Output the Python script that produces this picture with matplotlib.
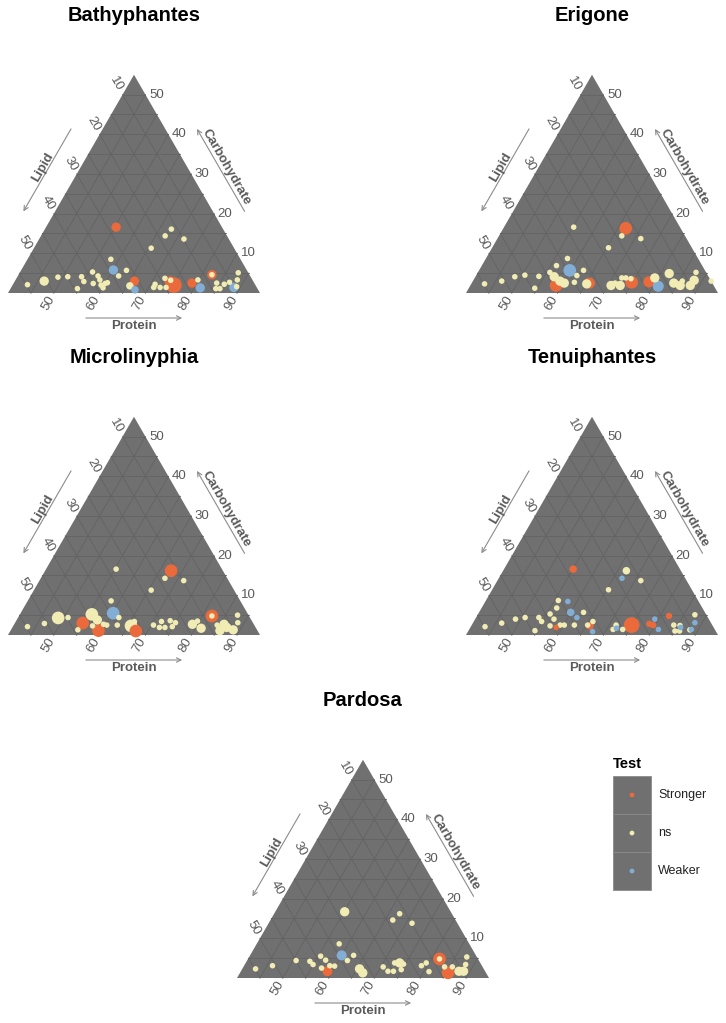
import numpy as np
import matplotlib
matplotlib.use("Agg")
import matplotlib.pyplot as plt
from matplotlib.patches import Polygon, Rectangle

plt.rcParams['font.family'] = ['Liberation Sans', 'DejaVu Sans']

# ---------------- data (Protein %, Carbohydrate %, test, point size) ----------------
bathy_protein = [55.3, 67.6, 67.1, 71.6, 65.6, 58.2, 60.1, 63.0, 62.0, 43.2, 46.4, 48.9, 51.0, 54.6, 54.0,
                 55.1, 55.8, 57.4, 57.5, 58.4, 59.3, 60.0, 60.1, 60.4, 66.1, 65.7, 67.3, 71.0, 71.1, 72.5,
                 73.8, 72.4, 73.9, 75.2, 74.0, 78.9, 79.8, 81.3, 82.2, 82.2, 84.3, 85.7, 84.8, 86.1, 87.0,
                 88.6, 87.7, 88.4, 89.1]
bathy_carb = [16.6, 16.1, 14.4, 13.6, 11.3, 8.5, 5.8, 5.7, 4.3, 2.1, 3.0, 4.0, 4.1, 1.1, 4.1,
              2.9, 5.3, 2.4, 4.3, 3.3, 2.0, 2.4, 1.3, 2.6, 3.0, 1.8, 0.8, 2.2, 1.4, 1.4,
              1.4, 3.7, 3.2, 2.0, 2.8, 2.5, 3.3, 1.3, 4.6, 4.6, 2.5, 1.1, 1.1, 2.2, 2.7,
              1.4, 5.1, 3.3, 1.6]
bathy_test = ['Stronger', 'ns', 'ns', 'ns', 'ns', 'ns', 'Weaker', 'ns', 'ns', 'ns', 'ns', 'ns', 'ns', 'ns', 'ns',
              'ns', 'ns', 'ns', 'ns', 'ns', 'ns', 'ns', 'ns', 'ns', 'Stronger', 'ns', 'Weaker', 'ns', 'ns', 'ns',
              'ns', 'ns', 'ns', 'Stronger', 'Stronger', 'Stronger', 'ns', 'Weaker', 'Stronger', 'ns', 'ns', 'ns', 'ns', 'ns', 'ns',
              'Weaker', 'ns', 'ns', 'ns']
bathy_size = [2, 1, 1, 1, 1, 1, 2, 1, 1, 1, 2, 1, 1, 1, 1,
              1, 1, 1, 1, 1, 1, 1, 1, 1, 2, 1.5, 1.5, 1, 1, 1,
              1, 1, 1, 4, 2.5, 2, 1, 2, 2, 1, 1, 1, 1, 1, 1,
              2, 1, 1, 1]

erig_protein = [66.7, 66.8, 55.2, 71.3, 65.4, 57.8, 56.3, 59.8, 62.0, 62.8, 55.7, 57.2, 59.0, 60.2, 58.7,
                54.4, 53.8, 50.6, 48.6, 46.3, 42.9, 62.3, 65.7, 65.2, 70.7, 71.3, 72.7, 72.1, 73.0, 74.8,
                74.2, 78.5, 79.3, 81.1, 81.9, 84.1, 85.8, 85.7, 88.0, 88.2, 87.6, 92.0]
erig_carb = [16.3, 14.4, 16.6, 13.7, 11.4, 8.7, 6.9, 5.7, 4.4, 5.7, 5.2, 4.1, 3.0, 2.5, 1.9,
             1.2, 4.2, 4.5, 4.1, 3.0, 2.3, 2.7, 2.5, 2.3, 1.9, 2.5, 1.9, 3.8, 3.8, 2.7,
             3.6, 2.8, 3.8, 1.7, 4.9, 2.5, 1.9, 3.0, 1.9, 3.2, 5.2, 3.0]
erig_test = ['Stronger', 'ns', 'ns', 'ns', 'ns', 'ns', 'ns', 'Weaker', 'ns', 'ns', 'ns', 'ns', 'ns', 'ns', 'Stronger',
             'ns', 'ns', 'ns', 'ns', 'ns', 'ns', 'ns', 'Stronger', 'ns', 'ns', 'ns', 'ns', 'ns', 'ns', 'Stronger',
             'ns', 'Stronger', 'ns', 'Weaker', 'ns', 'ns', 'ns', 'ns', 'ns', 'ns', 'ns', 'ns']
erig_size = [3, 1, 1, 1, 1, 1, 1, 3, 1, 1, 1, 2, 2, 2, 3,
             1, 1, 1, 1, 1, 1, 1, 2.5, 2, 2, 1, 2, 1, 1, 3,
             1, 2.5, 2, 2.5, 2, 2, 2, 1, 2, 2, 1, 1]

micro_protein = [67.5, 67.1, 71.5, 55.3, 65.6, 58.2, 60.2, 62.0, 55.7, 57.6, 59.5, 60.3, 57.3, 54.8, 59.2,
                 54.6, 48.8, 50.9, 46.5, 43.2, 62.6, 65.7, 65.9, 67.4, 70.5, 72.1, 73.3, 74.8, 71.8, 73.6,
                 75.0, 78.9, 79.6, 81.3, 82.1, 82.1, 84.4, 85.8, 85.7, 88.5, 88.6, 87.6, 86.8]
micro_carb = [16.2, 14.3, 13.7, 16.6, 11.3, 8.6, 5.5, 4.4, 5.2, 3.8, 2.7, 2.5, 2.3, 3.0, 1.1,
              1.3, 4.3, 4.4, 2.9, 2.1, 2.5, 2.3, 3.4, 1.0, 2.5, 1.9, 1.9, 2.1, 3.4, 3.6,
              3.1, 2.7, 3.5, 1.7, 4.8, 4.8, 2.5, 2.7, 1.1, 1.3, 3.1, 5.0, 1.9]
micro_test = ['Stronger', 'ns', 'ns', 'ns', 'ns', 'ns', 'Weaker', 'ns', 'ns', 'ns', 'ns', 'ns', 'ns', 'Stronger', 'Stronger',
              'ns', 'ns', 'ns', 'ns', 'ns', 'ns', 'ns', 'ns', 'Stronger', 'ns', 'ns', 'ns', 'ns', 'ns', 'ns',
              'ns', 'ns', 'ns', 'ns', 'Stronger', 'ns', 'ns', 'ns', 'ns', 'ns', 'ns', 'ns', 'ns']
micro_size = [3, 1, 1, 1, 1, 1, 3, 1, 3, 2, 1, 1, 1, 3, 3,
              1, 3, 1, 1, 1, 1, 3, 1, 3, 1, 1, 1, 1, 1, 1,
              1, 2, 1, 2, 3, 1, 1, 2, 2, 2, 1, 1, 2]

tenui_protein = [55.1, 66.9, 66.9, 71.3, 65.4, 55.8, 58.0, 56.4, 60.0, 62.0, 62.8, 55.7, 57.2, 59.3, 60.2,
                 58.7, 57.2, 53.7, 54.8, 54.5, 50.7, 48.8, 46.3, 43.1, 62.4, 65.9, 65.3, 66.0, 67.2, 71.5,
                 71.4, 72.0, 73.5, 74.9, 79.2, 78.6, 79.6, 81.3, 81.9, 84.1, 85.5, 85.1, 86.1, 88.2, 87.4,
                 85.9, 88.4, 88.5]
tenui_carb = [16.6, 16.2, 14.3, 13.7, 11.4, 8.7, 8.45, 6.8, 5.7, 4.4, 5.7, 5.3, 4.0, 2.5, 2.5,
              1.9, 2.3, 4.4, 3.4, 1.1, 4.4, 4.0, 3.0, 2.1, 2.5, 2.3, 2.5, 3.4, 0.85, 2.5,
              1.4, 1.7, 1.4, 2.5, 4.0, 2.8, 2.5, 1.4, 4.8, 2.5, 2.4, 1.0, 1.0, 1.3, 5.1,
              1.9, 3.1, 1.4]
tenui_test = ['Stronger', 'ns', 'Weaker', 'ns', 'ns', 'ns', 'Weaker', 'ns', 'Weaker', 'Weaker', 'ns', 'ns', 'ns', 'ns', 'ns',
              'Stronger', 'ns', 'ns', 'ns', 'ns', 'ns', 'ns', 'ns', 'ns', 'ns', 'Stronger', 'ns', 'ns', 'Weaker', 'ns',
              'ns', 'Weaker', 'ns', 'Stronger', 'Weaker', 'Stronger', 'Stronger', 'Weaker', 'Stronger', 'ns', 'ns', 'ns', 'ns', 'ns', 'ns',
              'Weaker', 'Weaker', 'Weaker']
tenui_size = [1.5, 1.5, 1, 1, 1, 1, 1, 1, 1.5, 1, 1, 1, 1, 1, 1,
              1, 1, 1, 1, 1, 1, 1, 1, 1, 1, 1.5, 1, 1, 1, 1,
              1, 1, 1, 4, 1, 1.2, 1.2, 1, 1.2, 1, 1, 1, 1, 1, 1,
              1, 1, 1]

pard_protein = [55.15, 67.4, 66.7, 71.3, 58.0, 60.0, 62.6, 61.9, 55.5, 57.1, 58.7, 59.8, 57.2, 58.9, 53.8,
                54.9, 50.7, 46.2, 42.9, 65.6, 66.8, 70.5, 72.1, 73.3, 72.5, 73.6, 74.8, 74.6, 78.7, 79.4,
                81.1, 81.8, 81.8, 85.4, 83.9, 85.6, 87.6, 88.6, 88.2, 87.5]
pard_carb = [16.7, 16.2, 14.6, 13.8, 8.6, 5.7, 5.7, 4.4, 5.5, 4.5, 3.1, 3.0, 2.5, 1.7, 4.2,
             3.4, 4.4, 3.1, 2.3, 2.3, 1.3, 2.8, 1.7, 1.7, 3.8, 3.8, 2.1, 3.5, 3.1, 3.8,
             1.6, 4.8, 4.8, 1.3, 2.8, 2.8, 1.7, 1.7, 3.4, 5.3]
pard_test = ['ns', 'ns', 'ns', 'ns', 'ns', 'Weaker', 'ns', 'ns', 'ns', 'ns', 'ns', 'ns', 'ns', 'Stronger', 'ns',
             'ns', 'ns', 'ns', 'ns', 'ns', 'ns', 'ns', 'ns', 'ns', 'ns', 'ns', 'ns', 'ns', 'ns', 'ns',
             'ns', 'Stronger', 'ns', 'Stronger', 'ns', 'ns', 'ns', 'ns', 'ns', 'ns']
pard_size = [2, 1, 1, 1, 1, 2.2, 1, 1, 1, 1, 1, 1, 1, 2.2, 1,
             1, 1, 1, 1, 2, 2, 1, 1, 1, 1, 2, 1, 1, 1, 1,
             1, 3, 1, 3, 1, 1, 2, 2, 1, 1]

genera = ['Bathyphantes', 'Erigone', 'Microlinyphia', 'Tenuiphantes', 'Pardosa']
test_levels = ['Stronger', 'ns', 'Weaker']
test_colors = {'Stronger': '#EA6A3B', 'ns': '#F0ECB4', 'Weaker': '#82AED6'}

# axis limits of the zoomed ternary (Protein, Lipid, Carbohydrate)
P_MIN, L_MIN, C_MIN, SPAN = 40.0, 5.0, 0.0, 55.0
tick_vals = [10, 20, 30, 40, 50]
prot_ticks = [50, 60, 70, 80, 90]
grid_step = 5

# ---------------- layout ----------------
W, H = 726, 1023
fig = plt.figure(figsize=(W / 100, H / 100), dpi=100)
S3 = np.sqrt(3) / 2
SCALE = 252.0  # px per unit triangle side

BG = '#707070'
GRID = '#636363'
TXT = '#5a5a5a'


def to_xy(P, C):
    P = np.asarray(P, float)
    C = np.asarray(C, float)
    p = (P - P_MIN) / SPAN
    c = (C - C_MIN) / SPAN
    return p + c / 2, c * S3


def panel(left_px, bottom_px, title, prot, carb, test, size):
    mx_l, mx_r, my_b, my_t = 50, 50, 50, 300
    ax = fig.add_axes([(left_px - mx_l) / W, (H - (bottom_px + my_b)) / H,
                       (252 + mx_l + mx_r) / W, (my_b + my_t) / H])
    ax.set_xlim(-mx_l / SCALE, (252 + mx_r) / SCALE)
    ax.set_ylim(-my_b / SCALE, my_t / SCALE)
    ax.axis('off')
    ax.add_patch(Polygon([[0, 0], [1, 0], [0.5, S3]], closed=True, fc=BG, ec='none', zorder=0))
    # grid
    for v in np.arange(grid_step, SPAN, grid_step):
        f = v / SPAN
        lw = 0.6
        ax.plot([f / 2, 1 - f / 2], [f * S3, f * S3], color=GRID, lw=lw, zorder=1)
        ax.plot([f, f + (1 - f) / 2], [0, (1 - f) * S3], color=GRID, lw=lw, zorder=1)
        ax.plot([1 - f, (1 - f) / 2], [0, (1 - f) * S3], color=GRID, lw=lw, zorder=1)
    # points
    x, y = to_xy(prot, carb)
    sz = np.asarray(size, float)
    order = np.argsort(-sz, kind='stable')
    cols = [test_colors[t] for t in test]
    ax.scatter(x[order], y[order], s=16 * sz[order] ** 1.5, c=[cols[i] for i in order],
               edgecolors='none', zorder=3)
    # tick labels
    px = 1 / SCALE
    for v in prot_ticks:
        tx = (v - P_MIN) / SPAN
        ax.text(tx - 5.8 * px, -10.5 * px, str(v), rotation=60, ha='center', va='center',
                fontsize=9.5, color=TXT, rotation_mode='anchor')
    for v in tick_vals:
        f = 1 - (v - L_MIN) / SPAN
        ax.text(f / 2 - 6.2 * px, f * S3 + 10.5 * px, str(v), rotation=-60, ha='center', va='center',
                fontsize=9.5, color=TXT, rotation_mode='anchor')
    for v in tick_vals:
        f = (v - C_MIN) / SPAN
        ax.text(1 - f / 2 + 11 * px, f * S3, str(v), ha='center', va='center',
                fontsize=9.5, color=TXT)
    # axis titles and arrows
    arrow_kw = dict(arrowstyle='->', color='#8c8c8c', lw=0.8, mutation_scale=8)
    ax.annotate('', xy=(0.702, -25 * px), xytext=(0.298, -25 * px), arrowprops=arrow_kw)
    ax.text(0.5, -33 * px, 'Protein', ha='center', va='center', fontsize=9.5,
            fontweight='bold', color=TXT)
    # lipid (left edge)
    n = np.array([-S3, 0.5])
    d = np.array([-0.5, -S3])
    mid = np.array([0.25, S3 / 2])
    a0 = mid + n * 0.109 - d * 0.2
    a1 = mid + n * 0.109 + d * 0.2
    ax.annotate('', xy=a1, xytext=a0, arrowprops=arrow_kw)
    tpos = mid + n * 0.131
    ax.text(tpos[0], tpos[1], 'Lipid', rotation=60, ha='center', va='center', fontsize=9.5,
            fontweight='bold', color=TXT, rotation_mode='anchor')
    # carbohydrate (right edge)
    n = np.array([S3, 0.5])
    d = np.array([-0.5, S3])
    mid = np.array([0.75, S3 / 2])
    a0 = mid + n * 0.109 - d * 0.2
    a1 = mid + n * 0.109 + d * 0.2
    ax.annotate('', xy=a1, xytext=a0, arrowprops=arrow_kw)
    tpos = mid + n * 0.133
    ax.text(tpos[0], tpos[1], 'Carbohydrate', rotation=-60, ha='center', va='center', fontsize=9.5,
            fontweight='bold', color=TXT, rotation_mode='anchor')
    # title
    ax.text(0.5, 1.10, title, ha='center', va='center', fontsize=14.5, fontweight='bold', color='black')
    return ax


panel(8, 293, genera[0], bathy_protein, bathy_carb, bathy_test, bathy_size)
panel(466, 293, genera[1], erig_protein, erig_carb, erig_test, erig_size)
panel(8, 635, genera[2], micro_protein, micro_carb, micro_test, micro_size)
panel(466, 635, genera[3], tenui_protein, tenui_carb, tenui_test, tenui_size)
panel(237, 978, genera[4], pard_protein, pard_carb, pard_test, pard_size)

# ---------------- legend ----------------
lg = fig.add_axes([0, 0, 1, 1])
lg.set_xlim(0, W)
lg.set_ylim(H, 0)
lg.axis('off')
lg.set_zorder(-1)
lg.text(613, 764, 'Test', ha='left', va='center', fontsize=10.5, fontweight='bold', color='black')
key_h = 38
for i, lev in enumerate(test_levels):
    y0 = 776 + i * key_h
    lg.add_patch(Rectangle((613, y0), 38, key_h, fc=BG, ec='#8a8a8a', lw=0.6))
    lg.scatter([632], [y0 + key_h / 2], s=12, c=test_colors[lev], edgecolors='none', zorder=3)
    lg.text(658, y0 + key_h / 2, lev, ha='left', va='center', fontsize=9, color='#222222')

fig.savefig('out.png', dpi=100)
